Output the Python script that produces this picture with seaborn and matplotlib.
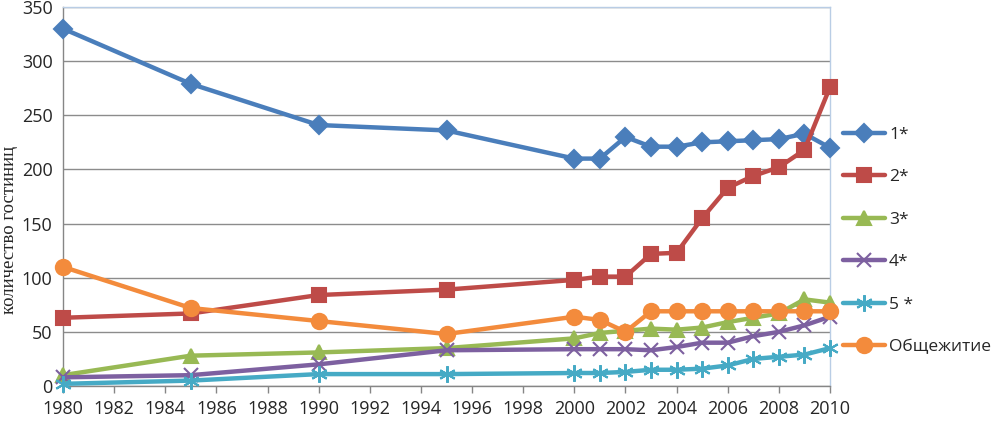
import matplotlib
matplotlib.use("Agg")
import matplotlib.pyplot as plt
import seaborn as sns
import pandas as pd
from matplotlib.lines import Line2D

years = [1980, 1985, 1990, 1995, 2000, 2001, 2002, 2003, 2004, 2005, 2006, 2007, 2008, 2009, 2010]
s1 = [330, 279, 241, 236, 210, 210, 230, 221, 221, 225, 226, 227, 228, 233, 220]
s2 = [63, 67, 84, 89, 98, 101, 101, 122, 123, 155, 183, 194, 202, 218, 276]
s3 = [10, 28, 31, 35, 44, 49, 51, 53, 52, 54, 59, 63, 67, 80, 77]
s4 = [8, 10, 20, 33, 34, 34, 34, 33, 36, 40, 40, 46, 50, 56, 64]
s5 = [2, 5, 11, 11, 12, 12, 13, 15, 15, 16, 19, 25, 27, 29, 35]
s6 = [110, 72, 60, 48, 64, 61, 50, 69, 69, 69, 69, 69, 69, 69, 69]

names = ["1*", "2*", "3*", "4*", "5 *", "Общежитие"]
series = [s1, s2, s3, s4, s5, s6]
colors = ["#4A7EBB", "#BE4B48", "#98B954", "#7D60A0", "#46AAC5", "#F38B3C"]
markers = ["D", "s", "^", "x", (6, 2, 0), "o"]
msizes = [9, 10, 10, 10, 12, 11]

x_ticks = list(range(1980, 2011, 2))
y_ticks = list(range(0, 351, 50))

sns.set_theme(style="white")
plt.rcParams['font.family'] = ['Open Sans', 'DejaVu Sans']

fig = plt.figure(figsize=(9.93, 4.21), dpi=100)
ax = fig.add_axes([63/993, 35/421, (830-63)/993, (386-7)/421])

handles = []
for name, vals, c, m, ms in zip(names, series, colors, markers, msizes):
    df = pd.DataFrame({"year": years, "value": vals})
    sns.lineplot(data=df, x="year", y="value", ax=ax, color=c, linewidth=3.2,
                 marker=m, markersize=ms, markeredgecolor=c, markerfacecolor=c,
                 markeredgewidth=1.5, clip_on=False, zorder=3)
    handles.append(Line2D([0], [0], color=c, linewidth=3.2, marker=m, markersize=ms,
                          markeredgecolor=c, markerfacecolor=c, markeredgewidth=1.5))

ax.set_xlim(1980, 2010)
ax.set_ylim(0, 350)
ax.set_xticks(x_ticks)
ax.set_yticks(y_ticks)
ax.tick_params(axis='x', labelsize=13, length=5, width=1, color="#868686", direction='out', pad=5, bottom=True)
ax.tick_params(axis='y', labelsize=13, length=0, pad=7.5)
ax.yaxis.grid(True, color="#8C8C8C", linewidth=1)
ax.xaxis.grid(False)
ax.set_xlabel("")
ax.set_ylabel("")
for sp in ["left", "bottom"]:
    ax.spines[sp].set_color("#868686")
    ax.spines[sp].set_linewidth(1)
for sp in ["top", "right"]:
    ax.spines[sp].set_color("#B9CDE5")
    ax.spines[sp].set_linewidth(1)

fig.text(1/993, 1 - 230/421, "количество гостиниц", rotation=90, ha='left', va='center',
         fontsize=13.5, family=['Liberation Serif', 'DejaVu Serif'])

fig.legend(handles, names, loc='center left', bbox_to_anchor=(843/993, 1 - 241/421),
           frameon=False, fontsize=12.5, labelspacing=1.52, handlelength=2.4,
           handletextpad=0.25, borderpad=0, borderaxespad=0)

fig.savefig("out.png", dpi=100)
